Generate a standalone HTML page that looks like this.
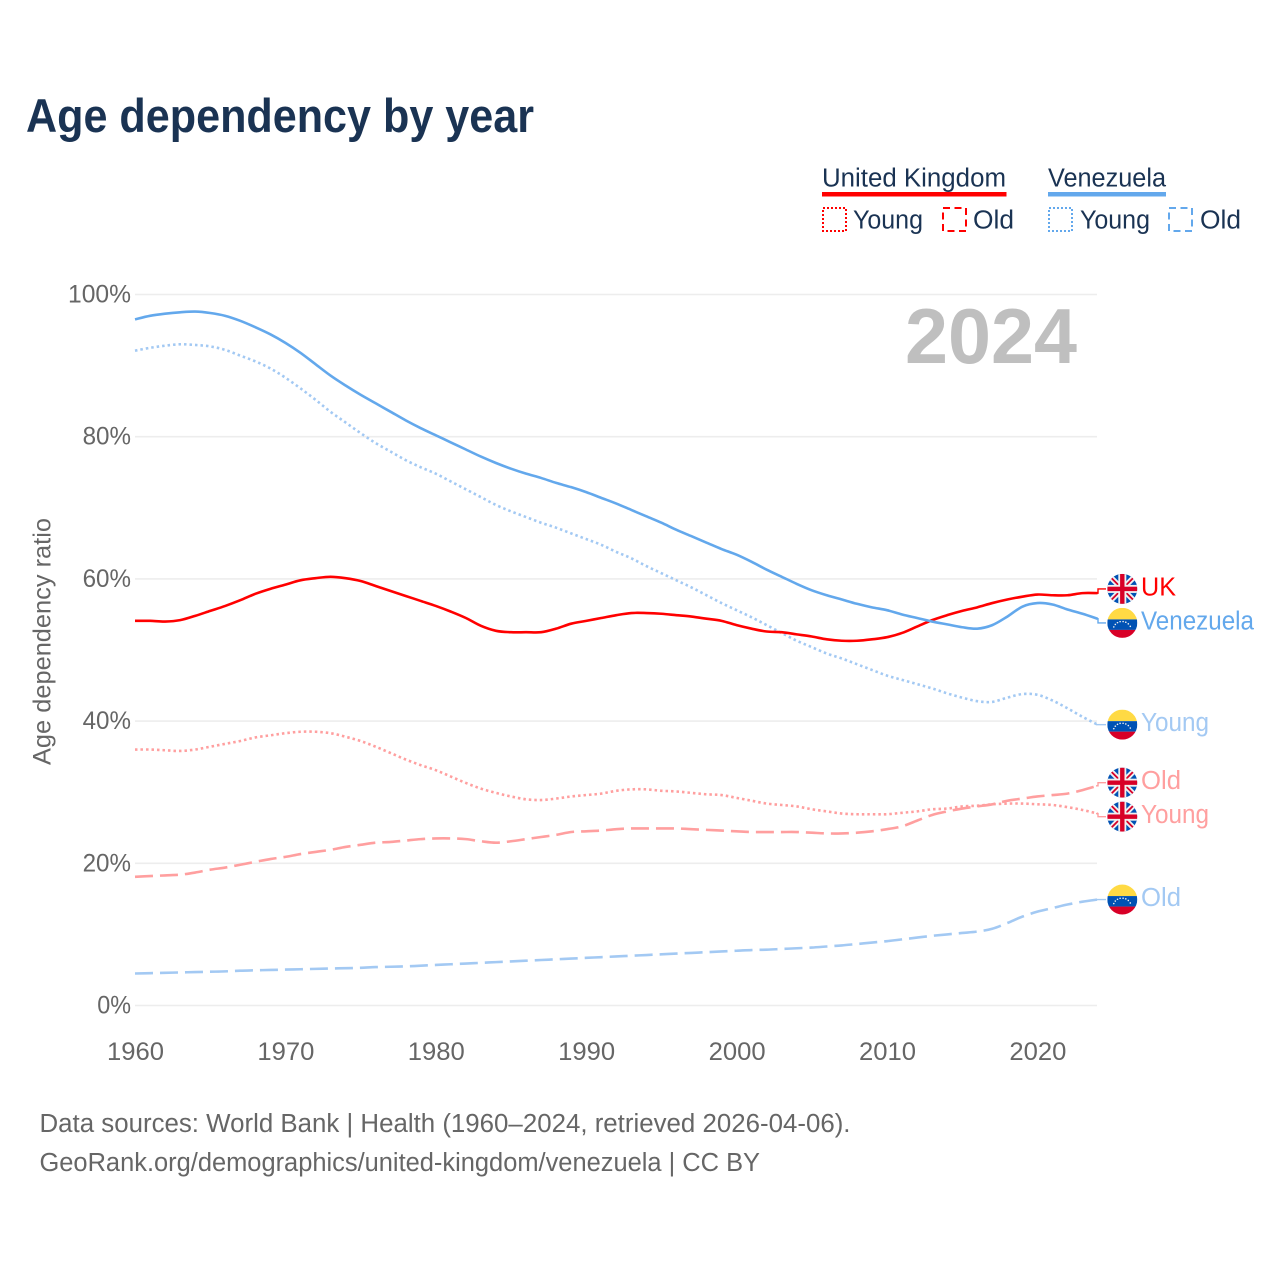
<!DOCTYPE html>
<html lang="en">
<head>
<meta charset="utf-8">
<title>Age dependency by year</title>
<style>
html,body{margin:0;padding:0;background:#fff;}
svg{display:block;}
text{font-family:"Liberation Sans",sans-serif;}
</style>
</head>
<body>
<svg id="chart" xmlns="http://www.w3.org/2000/svg" width="1280" height="1280" viewBox="0 0 1280 1280">
  <defs>
    <clipPath id="flag-clip"><circle cx="0" cy="0" r="15"/></clipPath>
    <g id="flag-uk" clip-path="url(#flag-clip)">
      <rect x="-15" y="-15" width="30" height="30" fill="#0052b4"/>
      <path d="M-15,-15L15,15M15,-15L-15,15" stroke="#f0f0f0" stroke-width="5.5" fill="none"/>
      <path d="M-15,-15L15,15M15,-15L-15,15" stroke="#d80027" stroke-width="1.8" fill="none"/>
      <rect x="-15" y="-4" width="30" height="8" fill="#f0f0f0"/>
      <rect x="-4" y="-15" width="8" height="30" fill="#f0f0f0"/>
      <rect x="-15" y="-2.2" width="30" height="4.4" fill="#d80027"/>
      <rect x="-2.2" y="-15" width="4.4" height="30" fill="#d80027"/>
    </g>
    <g id="flag-ve" clip-path="url(#flag-clip)">
      <rect x="-15" y="-15" width="30" height="11.5" fill="#ffda44"/>
      <rect x="-15" y="-3.5" width="30" height="10.5" fill="#0052b4"/>
      <rect x="-15" y="7" width="30" height="8" fill="#d80027"/>
      <g fill="#f0f0f0">
        <circle cx="-8.5" cy="4" r=".8"/><circle cx="-7" cy="1.5" r=".8"/><circle cx="-4.8" cy="-.3" r=".8"/>
        <circle cx="-2.2" cy="-1.3" r=".8"/><circle cx=".8" cy="-1.4" r=".8"/><circle cx="3.5" cy="-.7" r=".8"/>
        <circle cx="6" cy=".9" r=".8"/><circle cx="8" cy="3.4" r=".8"/>
      </g>
    </g>
  </defs>

  <rect x="0" y="0" width="1280" height="1280" fill="#ffffff"/>

  <text x="26" y="132" font-size="47" font-weight="700" fill="#1a3353" textLength="508" lengthAdjust="spacingAndGlyphs">Age dependency by year</text>

  <g font-size="25.5" fill="#1a3353">
    <text x="822" y="186.5" textLength="184" lengthAdjust="spacingAndGlyphs">United Kingdom</text>
    <rect x="822" y="192" width="184.5" height="4.5" fill="#ff0000"/>
    <rect x="823" y="208" width="23" height="23" fill="none" stroke="#ff0000" stroke-width="2" stroke-dasharray="2 2"/>
    <text x="853" y="228.5" textLength="70" lengthAdjust="spacingAndGlyphs">Young</text>
    <rect x="943" y="208" width="23" height="23" fill="none" stroke="#ff0000" stroke-width="2" stroke-dasharray="7 4.5"/>
    <text x="973" y="228.5" textLength="41" lengthAdjust="spacingAndGlyphs">Old</text>
    <text x="1048" y="186.5" textLength="118" lengthAdjust="spacingAndGlyphs">Venezuela</text>
    <rect x="1048" y="192" width="118" height="4.5" fill="#63a8ec"/>
    <rect x="1049" y="208" width="23" height="23" fill="none" stroke="#63a8ec" stroke-width="2" stroke-dasharray="2 2"/>
    <text x="1080" y="228.5" textLength="70" lengthAdjust="spacingAndGlyphs">Young</text>
    <rect x="1169" y="208" width="23" height="23" fill="none" stroke="#63a8ec" stroke-width="2" stroke-dasharray="7 4.5"/>
    <text x="1200" y="228.5" textLength="41" lengthAdjust="spacingAndGlyphs">Old</text>
  </g>

  <g id="grid"></g>
  <g id="y-ticks"></g>
  <g id="x-ticks"></g>

  <text x="905" y="363" font-size="78" font-weight="700" fill="#bfbfbf" textLength="172" lengthAdjust="spacingAndGlyphs">2024</text>

  <text transform="translate(50.5,765) rotate(-90)" x="0" y="0" font-size="25" fill="#666666" textLength="247" lengthAdjust="spacingAndGlyphs">Age dependency ratio</text>

  <g id="series"></g>
  <g id="end-labels"></g>

  <text x="39.5" y="1132" font-size="25.5" fill="#666666" textLength="811" lengthAdjust="spacingAndGlyphs">Data sources: World Bank | Health (1960–2024, retrieved 2026-04-06).</text>
  <text x="39.5" y="1171" font-size="25.5" fill="#666666" textLength="720.5" lengthAdjust="spacingAndGlyphs">GeoRank.org/demographics/united-kingdom/venezuela | CC BY</text>
</svg>
<script>
var xTickYears = [1960, 1970, 1980, 1990, 2000, 2010, 2020];
var yTickValues = [0, 20, 40, 60, 80, 100];
var firstYear = 1960;

var ukTotal = [54.1,54.1,54.0,54.2,54.8,55.5,56.2,57.0,57.9,58.6,59.2,59.8,60.1,60.3,60.1,59.7,59.0,58.3,57.6,56.9,56.2,55.4,54.5,53.4,52.7,52.5,52.5,52.5,53.0,53.7,54.1,54.5,54.9,55.2,55.2,55.1,54.9,54.7,54.4,54.1,53.5,53.0,52.6,52.5,52.2,51.9,51.5,51.3,51.3,51.5,51.8,52.4,53.3,54.2,54.9,55.5,56.0,56.6,57.1,57.5,57.8,57.7,57.7,58.0,58.0];
var veTotal = [96.5,97.0,97.3,97.5,97.6,97.4,97.0,96.3,95.4,94.4,93.2,91.8,90.2,88.6,87.2,85.9,84.7,83.5,82.3,81.2,80.2,79.2,78.2,77.2,76.3,75.5,74.8,74.2,73.5,72.9,72.2,71.4,70.6,69.7,68.8,67.9,66.9,66.0,65.1,64.2,63.4,62.4,61.3,60.3,59.3,58.4,57.7,57.1,56.5,56.0,55.6,55.0,54.5,54.0,53.6,53.2,53.0,53.5,54.7,56.1,56.6,56.4,55.7,55.1,54.4];
var veYoung = [92.1,92.5,92.8,93.0,92.9,92.7,92.2,91.4,90.6,89.6,88.3,86.8,85.2,83.5,82.0,80.5,79.1,77.9,76.7,75.7,74.8,73.7,72.6,71.5,70.4,69.5,68.7,67.9,67.2,66.4,65.6,64.8,63.8,62.9,61.8,60.8,59.8,58.8,57.7,56.6,55.6,54.6,53.5,52.4,51.3,50.4,49.5,48.8,48.0,47.2,46.4,45.8,45.2,44.6,43.9,43.3,42.8,42.7,43.3,43.8,43.7,42.9,41.8,40.6,39.5];
var veOld = [4.5,4.55,4.6,4.65,4.7,4.75,4.8,4.9,4.95,5.0,5.05,5.1,5.15,5.2,5.25,5.3,5.4,5.45,5.5,5.6,5.7,5.8,5.9,6.0,6.1,6.2,6.3,6.4,6.5,6.6,6.7,6.8,6.9,7.0,7.1,7.2,7.3,7.4,7.5,7.6,7.7,7.8,7.85,7.95,8.05,8.15,8.3,8.45,8.65,8.85,9.05,9.3,9.55,9.8,10.0,10.2,10.4,10.8,11.6,12.5,13.2,13.7,14.2,14.6,14.9];
var ukYoung = [36.0,36.0,35.9,35.8,36.0,36.4,36.8,37.2,37.7,38.0,38.3,38.5,38.5,38.3,37.8,37.2,36.4,35.5,34.6,33.8,33.1,32.2,31.3,30.5,29.9,29.4,29.0,28.9,29.1,29.4,29.6,29.8,30.2,30.4,30.4,30.2,30.1,29.9,29.7,29.6,29.2,28.8,28.4,28.2,28.0,27.6,27.3,27.0,26.9,26.9,26.9,27.1,27.3,27.6,27.7,28.0,28.1,28.3,28.4,28.4,28.3,28.2,27.9,27.5,27.0];
var ukOld = [18.1,18.2,18.3,18.4,18.7,19.1,19.4,19.8,20.2,20.6,20.9,21.3,21.6,21.9,22.3,22.6,22.9,23.0,23.2,23.4,23.5,23.5,23.4,23.1,22.9,23.1,23.4,23.7,24.0,24.4,24.5,24.6,24.8,24.9,24.9,24.9,24.9,24.8,24.7,24.6,24.5,24.4,24.4,24.4,24.4,24.3,24.2,24.2,24.3,24.5,24.8,25.2,26.0,26.8,27.3,27.7,28.0,28.3,28.8,29.1,29.4,29.6,29.8,30.3,30.9];

var SVGNS = 'http://www.w3.org/2000/svg';
function xScale(year) { return 135 + (year - 1960) * 15.04; }
function yScale(value) { return 1005.5 - value * 7.11; }
function make(tag, attrs, parent) {
  var el = document.createElementNS(SVGNS, tag);
  for (var k in attrs) { el.setAttribute(k, attrs[k]); }
  parent.appendChild(el);
  return el;
}
// smooth line through the data points (Catmull-Rom converted to cubic Bezier)
function smoothPath(values) {
  var pts = values.map(function (v, i) { return [xScale(firstYear + i), yScale(v)]; });
  var d = 'M' + pts[0][0].toFixed(2) + ',' + pts[0][1].toFixed(2);
  for (var i = 0; i < pts.length - 1; i++) {
    var p0 = pts[Math.max(i - 1, 0)], p1 = pts[i], p2 = pts[i + 1], p3 = pts[Math.min(i + 2, pts.length - 1)];
    d += 'C' + (p1[0] + (p2[0] - p0[0]) / 6).toFixed(2) + ',' + (p1[1] + (p2[1] - p0[1]) / 6).toFixed(2) + ' ' +
         (p2[0] - (p3[0] - p1[0]) / 6).toFixed(2) + ',' + (p2[1] - (p3[1] - p1[1]) / 6).toFixed(2) + ' ' +
         p2[0].toFixed(2) + ',' + p2[1].toFixed(2);
  }
  return d;
}

var gridGroup = document.getElementById('grid');
var yTickGroup = document.getElementById('y-ticks');
yTickValues.forEach(function (v) {
  var line = make('line', {x1: 135, x2: 1097, y1: yScale(v), y2: yScale(v), stroke: '#ededed', 'stroke-width': 1.6}, gridGroup);
  
  
  var label = v + '%';
  var t = make('text', {x: 131, y: yScale(v) + 8, 'text-anchor': 'end', 'font-size': 25, fill: '#666666', textLength: 14.6 * label.length + 4.6, lengthAdjust: 'spacingAndGlyphs'}, yTickGroup);
  
  
  t.textContent = label;
});

var xTickGroup = document.getElementById('x-ticks');
xTickYears.forEach(function (yr) {
  var t = make('text', {x: xScale(yr) + 0.5, y: 1060, 'text-anchor': 'middle', 'font-size': 25, fill: '#666666', textLength: 57, lengthAdjust: 'spacingAndGlyphs'}, xTickGroup);
  
  
  t.textContent = String(yr);
});

var RED = '#ff0000', BLUE = '#63a8ec', LRED = '#ff9f9f', LBLUE = '#a3c9f3';
var DOT = '2.5 3', DASH = '18 7';
var seriesList = [
  {key: 've-old', values: veOld, color: LBLUE, dash: DASH, flag: 'flag-ve', label: 'Old', w: 40},
  {key: 'uk-old', values: ukOld, color: LRED, dash: DASH, flag: 'flag-uk', label: 'Old', w: 40},
  {key: 'uk-young', values: ukYoung, color: LRED, dash: DOT, flag: 'flag-uk', label: 'Young', w: 68},
  {key: 've-young', values: veYoung, color: LBLUE, dash: DOT, flag: 'flag-ve', label: 'Young', w: 68},
  {key: 'uk-total', values: ukTotal, color: RED, dash: null, flag: 'flag-uk', label: 'UK', w: 35},
  {key: 've-total', values: veTotal, color: BLUE, dash: null, flag: 'flag-ve', label: 'Venezuela', w: 113}
];

// end-label positions: start from each series' last value, then push overlapping neighbours apart
function dodge(items, gap) {
  var sorted = items.slice().sort(function (a, b) { return a.labelY - b.labelY; });
  for (var i = 1; i < sorted.length; i++) {
    var d = sorted[i].labelY - sorted[i - 1].labelY;
    if (d < gap) {
      var shift = (gap - d) / 2;
      sorted[i - 1].labelY -= shift;
      sorted[i].labelY += shift;
    }
  }
}
seriesList.forEach(function (s) { s.labelY = yScale(s.values[s.values.length - 1]); });
dodge(seriesList, 34);

var seriesGroup = document.getElementById('series');
var labelGroup = document.getElementById('end-labels');
seriesList.forEach(function (s) {
  var attrs = {d: smoothPath(s.values), fill: 'none', stroke: s.color, 'stroke-width': 2.6, 'stroke-linejoin': 'round'};
  if (s.dash) { attrs['stroke-dasharray'] = s.dash; }
  var path = make('path', attrs, seriesGroup);
  
  

  var lastY = yScale(s.values[s.values.length - 1]);
  var conn = make('path', {d: 'M1096,' + lastY.toFixed(2) + 'L1098,' + lastY.toFixed(2) + 'L1098,' + s.labelY.toFixed(2) + 'L1106,' + s.labelY.toFixed(2), fill: 'none', stroke: s.color, 'stroke-width': 1.4}, labelGroup);
  
  

  var flag = make('use', {href: '#' + s.flag, transform: 'translate(1122.3,' + s.labelY.toFixed(2) + ')'}, labelGroup);
  
  

  var t = make('text', {x: 1141, y: (s.labelY + 6.5).toFixed(2), 'font-size': 25.5, fill: s.color, textLength: s.w, lengthAdjust: 'spacingAndGlyphs'}, labelGroup);
  
  
  t.textContent = s.label;
});
</script>
</body>
</html>
